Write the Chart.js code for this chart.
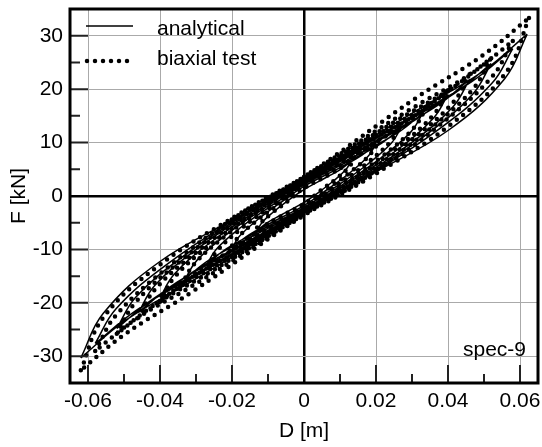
<!DOCTYPE html>
<html>
<head>
<meta charset="utf-8">
<script src="https://cdn.jsdelivr.net/npm/chart.js@4.4.0/dist/chart.umd.min.js"></script>
<style>
  html, body { margin: 0; padding: 0; background: #fff; }
</style>
</head>
<body>
<canvas id="grafico" width="542" height="447"></canvas>
<script>
// eixos
const xTicks = [-0.06, -0.04, -0.02, 0, 0.02, 0.04, 0.06];
const xTickLabels = ['-0.06', '-0.04', '-0.02', '0', '0.02', '0.04', '0.06'];
const xMinorTicks = [-0.05, -0.03, -0.01, 0.01, 0.03, 0.05];
const yTicks = [-30, -20, -10, 0, 10, 20, 30];
const yTickLabels = ['-30', '-20', '-10', '0', '10', '20', '30'];
const yMinorTicks = [-25, -15, -5, 5, 15, 25];

// analytical: ramos de carga / descarga de cada ciclo (null = quebra)
const analyticalD = [
  -0.013, -0.0117, -0.0085, -0.0039, 0, 0.0065, 0.0104, 0.013, null,
  0.013, 0.0117, 0.0085, 0.0039, 0, -0.0065, -0.0104, -0.013, null,
  -0.02, -0.018, -0.013, -0.006, 0, 0.01, 0.016, 0.02, null,
  0.02, 0.018, 0.013, 0.006, 0, -0.01, -0.016, -0.02, null,
  -0.027, -0.0243, -0.0176, -0.0081, 0, 0.0135, 0.0216, 0.027, null,
  0.027, 0.0243, 0.0176, 0.0081, 0, -0.0135, -0.0216, -0.027, null,
  -0.033, -0.0297, -0.0215, -0.0099, 0, 0.0165, 0.0264, 0.033, null,
  0.033, 0.0297, 0.0215, 0.0099, 0, -0.0165, -0.0264, -0.033, null,
  -0.04, -0.036, -0.026, -0.012, 0, 0.02, 0.032, 0.04, null,
  0.04, 0.036, 0.026, 0.012, 0, -0.02, -0.032, -0.04, null,
  -0.046, -0.0414, -0.0299, -0.0138, 0, 0.023, 0.0368, 0.046, null,
  0.046, 0.0414, 0.0299, 0.0138, 0, -0.023, -0.0368, -0.046, null,
  -0.052, -0.0468, -0.0338, -0.0156, 0, 0.026, 0.0416, 0.052, null,
  0.052, 0.0468, 0.0338, 0.0156, 0, -0.026, -0.0416, -0.052, null,
  -0.058, -0.0522, -0.0377, -0.0174, 0, 0.029, 0.0464, 0.058, null,
  0.058, 0.0522, 0.0377, 0.0174, 0, -0.029, -0.0464, -0.058, null,
  -0.062, -0.0558, -0.0403, -0.0186, 0, 0.031, 0.0496, 0.062, null,
  0.062, 0.0558, 0.0403, 0.0186, 0, -0.031, -0.0496, -0.062
];
const analyticalF = [
  -6.5, -5.0, -3.0, -0.6, 1.2, 3.6, 5.1, 6.5, null,
  6.5, 5.0, 3.0, 0.6, -1.2, -3.6, -5.1, -6.5, null,
  -9.8, -7.6, -4.5, -1.0, 1.8, 5.3, 7.6, 9.8, null,
  9.8, 7.6, 4.5, 1.0, -1.8, -5.3, -7.6, -9.8, null,
  -12.8, -9.9, -5.9, -1.4, 2.2, 6.9, 9.9, 12.8, null,
  12.8, 9.9, 5.9, 1.4, -2.2, -6.9, -9.9, -12.8, null,
  -15.5, -12.0, -7.2, -1.8, 2.5, 8.3, 12.0, 15.5, null,
  15.5, 12.0, 7.2, 1.8, -2.5, -8.3, -12.0, -15.5, null,
  -19.0, -14.6, -8.7, -2.3, 2.7, 10.1, 14.7, 19.0, null,
  19.0, 14.6, 8.7, 2.3, -2.7, -10.1, -14.7, -19.0, null,
  -21.8, -16.7, -10.0, -2.7, 2.9, 11.5, 16.8, 21.8, null,
  21.8, 16.7, 10.0, 2.7, -2.9, -11.5, -16.8, -21.8, null,
  -24.8, -19.0, -11.4, -3.1, 3.0, 13.1, 19.1, 24.8, null,
  24.8, 19.0, 11.4, 3.1, -3.0, -13.1, -19.1, -24.8, null,
  -27.6, -21.1, -12.6, -3.6, 3.1, 14.5, 21.3, 27.6, null,
  27.6, 21.1, 12.6, 3.6, -3.1, -14.5, -21.3, -27.6, null,
  -30.3, -22.0, -12.4, -4.0, 3.2, 15.9, 23.3, 30.3, null,
  30.3, 22.0, 12.4, 4.0, -3.2, -15.9, -23.3, -30.3
];

// biaxial test
const testD = [
  -0.014, -0.0126, -0.0091, -0.0042, 0, 0.007, 0.0112, 0.014, null,
  0.014, 0.0126, 0.0091, 0.0042, 0, -0.007, -0.0112, -0.014, null,
  -0.021, -0.0189, -0.0137, -0.0063, 0, 0.0105, 0.0168, 0.021, null,
  0.021, 0.0189, 0.0137, 0.0063, 0, -0.0105, -0.0168, -0.021, null,
  -0.027, -0.0243, -0.0176, -0.0081, 0, 0.0135, 0.0216, 0.027, null,
  0.027, 0.0243, 0.0176, 0.0081, 0, -0.0135, -0.0216, -0.027, null,
  -0.034, -0.0306, -0.0221, -0.0102, 0, 0.017, 0.0272, 0.034, null,
  0.034, 0.0306, 0.0221, 0.0102, 0, -0.017, -0.0272, -0.034, null,
  -0.04, -0.036, -0.026, -0.012, 0, 0.02, 0.032, 0.04, null,
  0.04, 0.036, 0.026, 0.012, 0, -0.02, -0.032, -0.04, null,
  -0.046, -0.0414, -0.0299, -0.0138, 0, 0.023, 0.0368, 0.046, null,
  0.046, 0.0414, 0.0299, 0.0138, 0, -0.023, -0.0368, -0.046, null,
  -0.052, -0.0468, -0.0338, -0.0156, 0, 0.026, 0.0416, 0.052, null,
  0.052, 0.0468, 0.0338, 0.0156, 0, -0.026, -0.0416, -0.052, null,
  -0.058, -0.0522, -0.0377, -0.0174, 0, 0.029, 0.0464, 0.058, null,
  0.058, 0.0522, 0.0377, 0.0174, 0, -0.029, -0.0464, -0.058, null,
  -0.062, -0.0558, -0.0403, -0.0186, 0, 0.031, 0.0496, 0.0625, null,
  0.0625, 0.0563, 0.0406, 0.0188, 0, -0.031, -0.0496, -0.062
];
const testF = [
  -7.2, -5.5, -3.3, -0.8, 1.5, 4.0, 5.7, 7.2, null,
  7.2, 5.5, 3.3, 0.8, -1.5, -4.0, -5.7, -7.2, null,
  -10.6, -8.2, -4.9, -1.2, 2.0, 5.8, 8.4, 10.6, null,
  10.6, 8.2, 4.9, 1.2, -2.0, -5.8, -8.4, -10.6, null,
  -13.5, -10.4, -6.2, -1.5, 2.4, 7.4, 10.7, 13.5, null,
  13.5, 10.4, 6.2, 1.5, -2.4, -7.4, -10.7, -13.5, null,
  -16.6, -12.8, -7.6, -1.8, 2.8, 9.1, 13.1, 16.6, null,
  16.6, 12.8, 7.6, 1.8, -2.8, -9.1, -13.1, -16.6, null,
  -19.8, -15.2, -9.1, -2.2, 3.0, 10.9, 15.6, 19.8, null,
  19.8, 15.2, 9.1, 2.2, -3.0, -10.9, -15.6, -19.8, null,
  -22.8, -17.5, -10.5, -2.5, 3.2, 12.5, 18.0, 22.8, null,
  22.8, 17.5, 10.5, 2.5, -3.2, -12.5, -18.0, -22.8, null,
  -25.8, -19.9, -11.9, -2.8, 3.4, 14.2, 20.4, 25.8, null,
  25.8, 19.9, 11.9, 2.8, -3.4, -14.2, -20.4, -25.8, null,
  -29.0, -22.3, -13.3, -3.2, 3.6, 16.0, 22.9, 29.0, null,
  29.0, 22.3, 13.3, 3.2, -3.6, -16.0, -22.9, -29.0, null,
  -32.6, -22.8, -13.0, -3.6, 3.6, 18.3, 26.3, 33.3, null,
  33.3, 23.3, 13.3, 3.7, -3.6, -17.9, -25.8, -32.6
];

const fonte = 'Liberation Sans, Arial, sans-serif';

function pontos(d, f) {
    return d.map((x, i) => x === null ? { x: 0, y: null } : { x: x, y: f[i] });
}

// tira as folgas que o Chart.js reserva para os rótulos das pontas
function semFolga(s) {
    s.paddingTop = 0;
    s.paddingBottom = 0;
    s.paddingLeft = 0;
    s.paddingRight = 0;
}

// moldura, marcas internas, legenda e rótulo
const moldura = {
    id: 'moldura',
    afterDatasetsDraw(chart) {
        const { ctx, chartArea: a, scales: { x, y } } = chart;
        ctx.save();
        ctx.strokeStyle = '#222';
        ctx.lineWidth = 2;
        ctx.beginPath();
        xTicks.forEach(v => {
            if (v === 0) return;
            const px = x.getPixelForValue(v);
            ctx.moveTo(px, a.bottom); ctx.lineTo(px, a.bottom - 18);
        });
        xMinorTicks.forEach(v => {
            const px = x.getPixelForValue(v);
            ctx.moveTo(px, a.bottom); ctx.lineTo(px, a.bottom - 9);
        });
        yTicks.forEach(v => {
            if (v === 0) return;
            const py = y.getPixelForValue(v);
            ctx.moveTo(a.left, py); ctx.lineTo(a.left + 18, py);
        });
        yMinorTicks.forEach(v => {
            const py = y.getPixelForValue(v);
            ctx.moveTo(a.left, py); ctx.lineTo(a.left + 10, py);
        });
        ctx.stroke();

        ctx.strokeStyle = '#000';
        ctx.lineWidth = 3;
        ctx.strokeRect(a.left, a.top, a.right - a.left, a.bottom - a.top);

        // legenda
        const ds = chart.data.datasets;
        ctx.lineWidth = 1.5;
        ctx.setLineDash([]);
        ctx.beginPath();
        ctx.moveTo(86, 26); ctx.lineTo(133, 26);
        ctx.stroke();
        ctx.lineWidth = 4.5;
        ctx.lineCap = 'round';
        ctx.setLineDash([0, 8]);
        ctx.beginPath();
        ctx.moveTo(87, 61); ctx.lineTo(128, 61);
        ctx.stroke();
        ctx.setLineDash([]);

        ctx.fillStyle = '#000';
        ctx.font = '21px ' + fonte;
        ctx.textBaseline = 'alphabetic';
        ctx.textAlign = 'left';
        ctx.fillText(ds[0].label, 157, 35);
        ctx.fillText(ds[1].label, 157, 65);
        ctx.textAlign = 'right';
        ctx.fillText('spec-9', 526, 356);
        ctx.restore();
    }
};

const ctx = document.getElementById('grafico').getContext('2d');

window.grafico = new Chart(ctx, {
    type: 'scatter',
    data: {
        datasets: [
            {
                label: 'analytical',
                data: pontos(analyticalD, analyticalF),
                showLine: true,
                borderColor: '#000',
                borderWidth: 1.5,
                pointRadius: 0,
                tension: 0.4,
                spanGaps: false
            },
            {
                label: 'biaxial test',
                data: pontos(testD, testF),
                showLine: true,
                borderColor: '#000',
                borderWidth: 4.5,
                borderDash: [0, 8],
                borderCapStyle: 'round',
                pointRadius: 0,
                tension: 0.4,
                spanGaps: false
            }
        ]
    },
    options: {
        responsive: false,
        animation: false,
        layout: { padding: { top: 9, right: 4, left: 0, bottom: 0 } },
        plugins: {
            legend: { display: false },
            tooltip: { enabled: false }
        },
        scales: {
            x: {
                type: 'linear',
                min: -0.065,
                max: 0.065,
                afterBuildTicks: s => { s.ticks = xTicks.map(v => ({ value: v })); },
                afterFit: s => { s.height = 64; semFolga(s); },
                border: { display: false },
                grid: {
                    drawTicks: false,
                    color: c => c.tick && c.tick.value === 0 ? '#000' : '#aaa',
                    lineWidth: c => c.tick && c.tick.value === 0 ? 2.5 : 1
                },
                ticks: {
                    autoSkip: false,
                    maxRotation: 0,
                    padding: 6,
                    color: '#000',
                    font: { family: fonte, size: 21 },
                    callback: (v, i) => xTickLabels[i]
                },
                title: {
                    display: true,
                    text: 'D [m]',
                    color: '#000',
                    font: { family: fonte, size: 21, lineHeight: 1.2 },
                    padding: { top: 0, bottom: 3 }
                }
            },
            y: {
                type: 'linear',
                min: -35,
                max: 35,
                afterBuildTicks: s => { s.ticks = yTicks.map(v => ({ value: v })); },
                afterFit: s => { s.width = 70; semFolga(s); },
                border: { display: false },
                grid: {
                    drawTicks: false,
                    color: c => c.tick && c.tick.value === 0 ? '#000' : '#aaa',
                    lineWidth: c => c.tick && c.tick.value === 0 ? 2.5 : 1
                },
                ticks: {
                    autoSkip: false,
                    padding: 7,
                    color: '#000',
                    font: { family: fonte, size: 21 },
                    callback: (v, i) => yTickLabels[i]
                },
                title: {
                    display: true,
                    text: 'F [kN]',
                    color: '#000',
                    font: { family: fonte, size: 21, lineHeight: 1.2 },
                    padding: { top: 7, bottom: 0 }
                }
            }
        }
    },
    plugins: [moldura]
});
</script>
</body>
</html>
